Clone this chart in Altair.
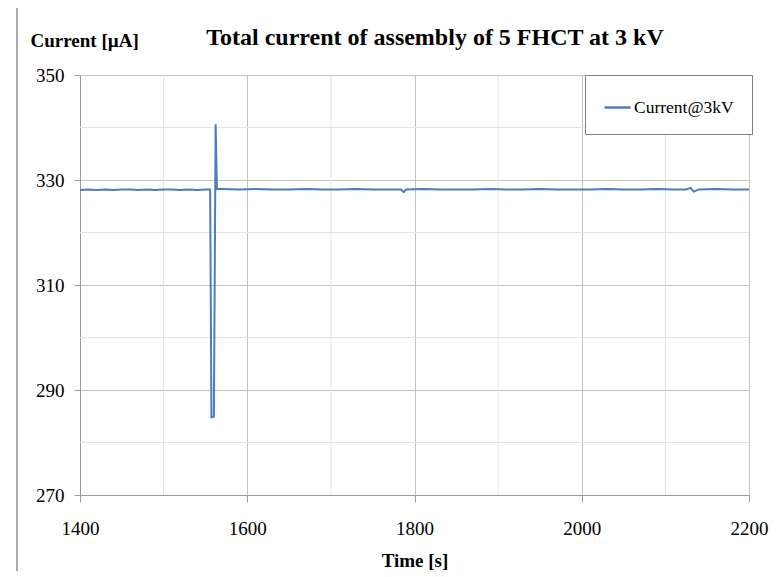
import altair as alt
import pandas as pd

# ---- data ----
times = [1400, 1410, 1420, 1430, 1440, 1450, 1460, 1470, 1480, 1490, 1500, 1510,
         1520, 1530, 1540, 1550, 1555.6, 1557.2, 1560.1, 1562.2, 1563.7, 1570,
         1590, 1610, 1630, 1650, 1670, 1690, 1710, 1730, 1750, 1770, 1784, 1787,
         1790, 1810, 1830, 1850, 1870, 1890, 1910, 1930, 1950, 1970, 1990, 2010,
         2030, 2050, 2070, 2090, 2110, 2125, 2130, 2134, 2140, 2160, 2180, 2200]
current = [328.1, 328.2, 328.1, 328.2, 328.1, 328.2, 328.2, 328.1, 328.2, 328.1, 328.2, 328.2,
           328.1, 328.2, 328.1, 328.2, 328.2, 284.8, 284.9, 340.6, 328.3, 328.3,
           328.2, 328.3, 328.2, 328.2, 328.3, 328.2, 328.2, 328.3, 328.2, 328.2, 328.2, 327.7,
           328.2, 328.3, 328.2, 328.2, 328.2, 328.3, 328.2, 328.2, 328.3, 328.2, 328.2, 328.2,
           328.3, 328.2, 328.2, 328.3, 328.2, 328.2, 328.5, 327.8, 328.2, 328.3, 328.2, 328.2]
series_name = "Current@3kV"
chart_title = "Total current of assembly of 5 FHCT at 3 kV"

y_major = [270, 290, 310, 330, 350]
y_minor = [280, 300, 320, 340]
x_major = [1400, 1600, 1800, 2000, 2200]
x_minor = [1500, 1700, 1900, 2100]

df = pd.DataFrame({"t": times, "c": current, "s": [series_name] * len(times)})
SERIF = "Liberation Serif"

xscale = alt.Scale(domain=[1400, 2200], nice=False, zero=False)
yscale = alt.Scale(domain=[270, 350], nice=False, zero=False)

x_axis = alt.Axis(values=x_major, title="Time [s]", format="d",
                  grid=True, gridColor="#c4c4c4", domainColor="#9a9a9a",
                  tickColor="#9a9a9a", tickSize=7, labelPadding=17,
                  labelFont=SERIF, labelFontSize=19, labelColor="black",
                  titleFont=SERIF, titleFontSize=19, titleFontWeight="bold",
                  titleColor="black", titlePadding=13, labelFlush=False)
y_axis = alt.Axis(values=y_major, title="Current [µA]", format="d",
                  grid=True, gridColor="#c4c4c4", domainColor="#9a9a9a",
                  tickColor="#9a9a9a", tickSize=6, labelPadding=10,
                  labelFont=SERIF, labelFontSize=19, labelColor="black",
                  titleFont=SERIF, titleFontSize=19, titleFontWeight="bold",
                  titleColor="black", titleAngle=0, titleAlign="left",
                  titleBaseline="middle", titleX=-50, titleY=-35)

minor_y = alt.Chart(pd.DataFrame({"c": y_minor})).mark_rule(color="#e4e4e4", strokeWidth=1).encode(
    y=alt.Y("c:Q", scale=yscale, axis=y_axis))
minor_x = alt.Chart(pd.DataFrame({"t": x_minor})).mark_rule(color="#e4e4e4", strokeWidth=1).encode(
    x=alt.X("t:Q", scale=xscale, axis=x_axis))

line = alt.Chart(df).mark_line(strokeWidth=2).encode(
    x=alt.X("t:Q", scale=xscale, axis=x_axis),
    y=alt.Y("c:Q", scale=yscale, axis=y_axis),
    color=alt.Color("s:N", scale=alt.Scale(range=["#4a7ebb"]),
                    legend=alt.Legend(title=None, orient="none", legendX=505, legendY=0,
                                      strokeColor="#7f7f7f", fillColor="white", padding=18,
                                      symbolType="stroke", symbolSize=680, symbolStrokeWidth=2.5,
                                      labelFont=SERIF, labelFontSize=17.5, labelColor="black",
                                      labelOffset=2)),
)

one = pd.DataFrame({"a": [0]})
frame_left = alt.Chart(one).mark_rule(color="#ababab", strokeWidth=2).encode(
    x=alt.value(-63), y=alt.value(-69), y2=alt.value(500))
frame_top = alt.Chart(one).mark_rule(color="#ababab", strokeWidth=2).encode(
    x=alt.value(-63), x2=alt.value(720), y=alt.value(-69))
title_text = alt.Chart(pd.DataFrame({"label": [chart_title]})).mark_text(
    font=SERIF, fontSize=24, fontWeight="bold", color="black", align="center",
    baseline="middle").encode(text="label:N", x=alt.value(355), y=alt.value(-37))

chart = alt.layer(minor_y, minor_x, line, frame_left, frame_top, title_text).properties(
    width=669, height=420,
    autosize=alt.AutoSizeParams(type="none"),
    padding={"left": 72, "top": 67, "right": 21, "bottom": 76},
).configure_view(stroke=None).configure(background="white")

chart.save("out.html", embed_options={"renderer": "svg", "actions": False})
